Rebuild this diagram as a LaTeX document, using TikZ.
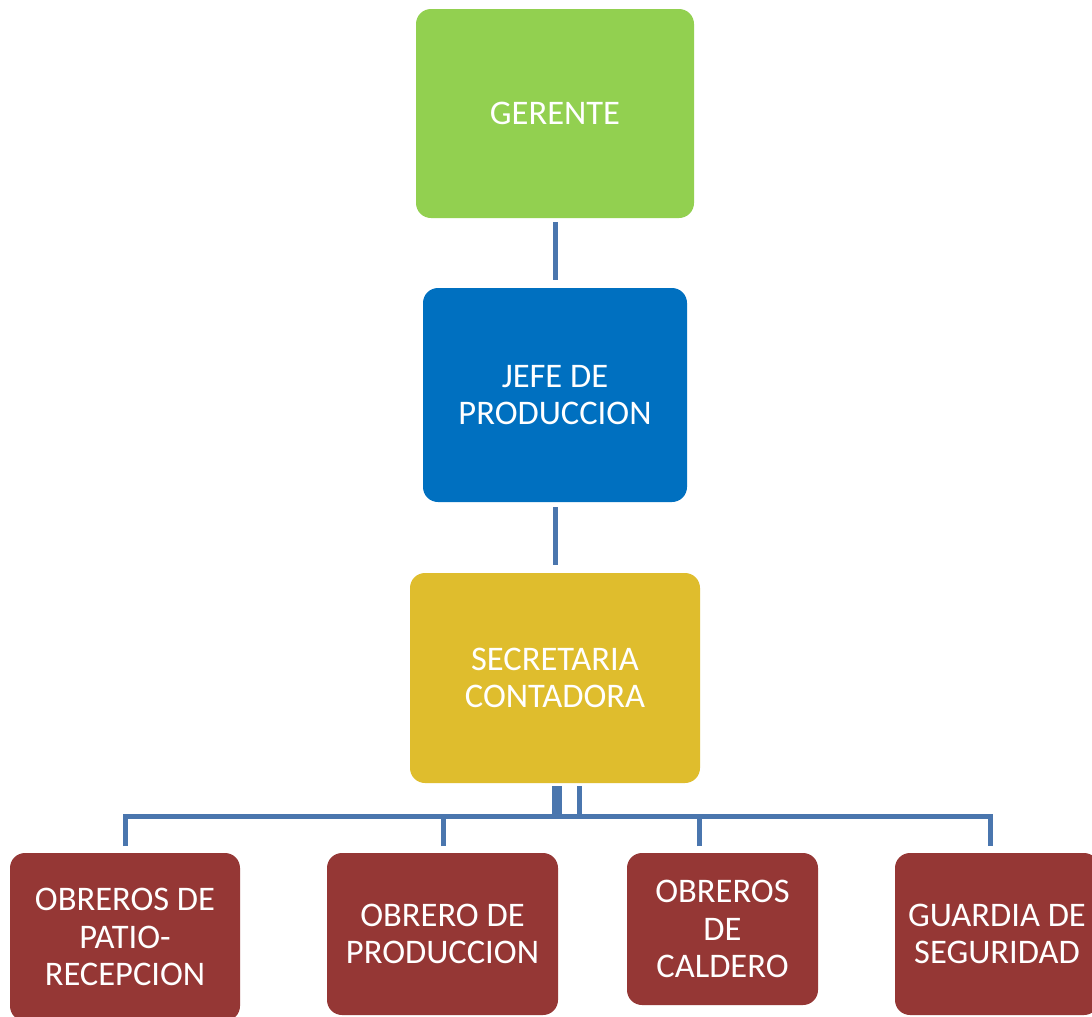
\documentclass[tikz,border=0pt]{standalone}
\usepackage{fontspec}
\setmainfont{Carlito}
\usetikzlibrary{calc}
\definecolor{cgreen}{HTML}{92D050}
\definecolor{cblue}{HTML}{0070C0}
\definecolor{cyellow}{HTML}{DFBD2D}
\definecolor{cred}{HTML}{953735}
\definecolor{cline}{HTML}{4A76AE}
\tikzset{
  box/.style={rectangle, rounded corners=15pt, inner sep=0pt, align=center,
    text=white, font=\fontsize{34.5}{37.5}\selectfont},
  conn/.style={draw=cline, line width=5pt, line cap=butt, line join=miter},
}
\begin{document}
\begin{tikzpicture}[x=1pt,y=-1pt]
\clip (0,0) rectangle (1092,1017);
\fill[white] (0,0) rectangle (1092,1017);
\node[box, fill=cgreen, minimum width=278pt, minimum height=209pt] (ger) at (555,113.5) {GERENTE};
\node[box, fill=cblue, minimum width=264pt, minimum height=214pt] (jefe) at (555,395) {JEFE DE\\PRODUCCION};
\node[box, fill=cyellow, minimum width=290pt, minimum height=210pt] (sec) at (555,678) {SECRETARIA\\CONTADORA};
\node[box, fill=cred, minimum width=230pt, minimum height=168pt] (o1) at (125,937) {OBREROS DE\\PATIO-\\RECEPCION};
\node[box, fill=cred, minimum width=231pt, minimum height=162pt] (o2) at (442.5,934) {OBRERO DE\\PRODUCCION};
\node[box, fill=cred, minimum width=191pt, minimum height=152pt] (o3) at (722.5,929) {OBREROS\\DE\\CALDERO};
\node[box, fill=cred, minimum width=204pt, minimum height=162pt] (o4) at (997,934) {GUARDIA DE\\SEGURIDAD};
\coordinate (bar) at (0,816);
\coordinate (d1) at (125,846);
\coordinate (d2) at (443,846);
\coordinate (d3) at (699,846);
\coordinate (d4) at (990,846);
\draw[conn] ([yshift=-4pt]ger.south) -- ([yshift=8pt]jefe.north);
\draw[conn] ([yshift=-5pt]jefe.south) -- ([yshift=8pt]sec.north);
\draw[draw=cline, line width=10pt] ([xshift=2pt,yshift=-3pt]sec.south) -- ([xshift=2pt]sec.south|-bar);
\draw[draw=cline, line width=5pt] ([xshift=24.5pt,yshift=-3pt]sec.south) -- ([xshift=24.5pt]sec.south|-bar);
\draw[conn] (d1) -- (d1|-bar) -- (d4|-bar) -- (d4);
\draw[conn] (d2) -- (d2|-bar);
\draw[conn] (d3) -- (d3|-bar);
\end{tikzpicture}
\end{document}
